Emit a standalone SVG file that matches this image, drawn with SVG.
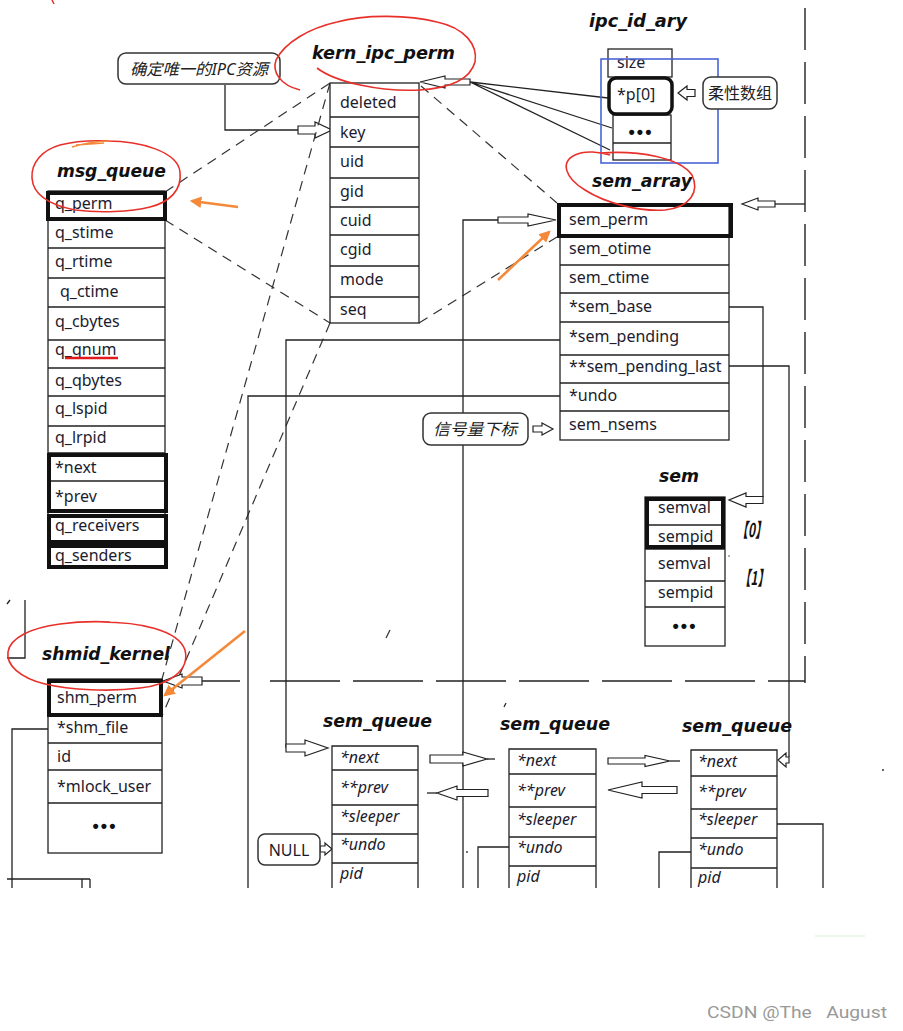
<svg xmlns="http://www.w3.org/2000/svg" width="903" height="1031" viewBox="0 0 903 1031">
<style>
.bx{fill:#fff;stroke:#222;stroke-width:1.3}
.rl{fill:none;stroke:#222;stroke-width:1.3}
.tk{fill:none;stroke:#111;stroke-width:4}
.t{font-family:"Noto Sans","Liberation Sans",sans-serif;font-size:16px;fill:#1c1c2e}
.it{font-style:italic}
.h{font-family:"DejaVu Sans","Liberation Sans",sans-serif;font-weight:bold;font-style:oblique;font-size:17.5px;fill:#111}
.br{font-family:"Noto Sans CJK SC","DejaVu Sans",sans-serif;font-weight:bold;font-style:italic;font-size:19px;fill:#111}
.cj{font-family:"Noto Sans","Noto Sans CJK SC",sans-serif;font-size:16px;fill:#222}
.ln{fill:none;stroke:#222;stroke-width:1.3}
.ds{fill:none;stroke:#333;stroke-width:1.2;stroke-dasharray:10 7}
.ld{fill:none;stroke:#222;stroke-width:1.4}
.ha{fill:#fff;stroke:#222;stroke-width:1.2}
.red{fill:none;stroke:#e8302a;stroke-width:1.6}
.or{fill:none;stroke:#f4893a;stroke-width:2.6;marker-end:url(#oh)}
.co{fill:#fff;stroke:#333;stroke-width:1.5}
.dot{font-family:"Liberation Sans",sans-serif;font-weight:bold;font-size:18px;fill:#111;letter-spacing:2px}
</style>
<defs>
<marker id="oh" viewBox="0 0 10 10" refX="8" refY="5" markerWidth="4.5" markerHeight="4.5" orient="auto"><path d="M0,0 L10,5 L0,10 z" fill="#f4893a"/></marker>
</defs>
<rect width="903" height="1031" fill="#fff"/>

<g id="connectors">
  <path class="ln" d="M225,85 V130 H298"/>
  <polygon class="ha" points="298,126 315,126 315,122 332,130 315,138 315,134 298,134"/>
  <path class="ln" d="M470,82 L608,98 M470,82 L612,128 M470,82 L610,150"/>
  <polygon class="ha" points="470,79 445,79 445,76 420,82 445,88 445,85 470,85"/>
  <polygon class="ha" points="695,89.5 687,89.5 687,86 678,93 687,100 687,96.5 695,96.5"/>
  <path class="ds" d="M165,192 L330,83"/>
  <path class="ds" d="M165,220 L330,323"/>
  <path class="ds" d="M421,86 L557,203"/>
  <path class="ds" d="M419,323 L557,237"/>
  <path class="ds" d="M330,83 L162,679"/>
  <path class="ds" d="M330,323 L162,716"/>
  <path class="ds" d="M386,638 L390,630"/>
  <path class="ln" d="M463,888 V220 H498"/>
  <polygon class="ha" points="498,217 528,217 528,214 556,220 528,226 528,223 498,223"/>
  <path class="ld" d="M805,8 V683" stroke-dasharray="42 12"/>
  <path class="ln" d="M775,204 H805"/>
  <polygon class="ha" points="775,201 758,201 758,198 742,204 758,210 758,207 775,207"/>
  <path class="ln" d="M202,681 H240"/>
  <path class="ld" d="M270,681 H805" stroke-dasharray="70 13"/>
  <polygon class="ha" points="202,677 182,677 182,674 163,681 182,688 182,685 202,685"/>
  <path class="ln" d="M729,307 H763 V497"/>
  <polygon class="ha" points="763,496.5 746,496.5 746,493 729,500 746,507 746,503.5 763,503.5"/>
  <path class="ln" d="M729,366 H789 V757"/>
  <polygon class="ha" points="789,757 786,757 786,753 778,760 786,767 786,763 789,763"/>
  <polygon class="ha" points="533,426 542,426 542,423 553,429 542,435 542,432 533,432"/>
  <path class="ln" d="M560,340 H286 V748"/>
  <polygon class="ha" points="286,744 305,744 305,740 328,748 305,756 305,752 286,752"/>
  <path class="ln" d="M560,396 H248 V888"/>
  <path class="ln" d="M48,729 H12 V888"/>
  <path class="ln" d="M7,879 H90 M82,879 V888 M90,879 V888"/>
  <path class="ln" d="M7,604 L10,600 M25,600 V658 H7"/>
  <polygon class="ha" points="430,755 463,755 463,752 487,759 463,766 463,763 430,763"/>
  <path class="ln" d="M487,759 H495"/>
  <polygon class="ha" points="488,789.5 457,789.5 457,786 437,793 457,800 457,796.5 488,796.5"/>
  <path class="ln" d="M427,793 H437"/>
  <polygon class="ha" points="608,758 645,758 645,755.5 670,761 645,766.5 645,764 608,764"/>
  <path class="ln" d="M670,761 H680"/>
  <polygon class="ha" points="677,786.5 642,786.5 642,782 608,790 642,798 642,793.5 677,793.5"/>
  <polygon class="ha" points="320,846 325,846 325,843 332,849 325,855 325,852 320,852"/>
  <path class="ln" d="M509,847 H478 V888"/>
  <path class="ln" d="M691,852 H659 V888"/>
  <path class="ln" d="M777,824 H823 V888"/>
  <circle cx="467" cy="852" r="0.9" fill="#333"/>
  <circle cx="883" cy="770" r="1" fill="#333"/>
  <circle cx="729" cy="556" r="0.8" fill="#555"/>
  <path class="ln" d="M506,703 L504,707" stroke-width="1"/>
</g>

<g id="callout-ipc">
  <rect class="co" x="118" y="53" width="162" height="31" rx="8"/>
  <text class="cj it" x="199" y="75" text-anchor="middle" textLength="138" lengthAdjust="spacingAndGlyphs">确定唯一的IPC资源</text>
</g>

<g id="kern_ipc_perm">
  <text class="h" x="312" y="59" textLength="143" lengthAdjust="spacingAndGlyphs">kern_ipc_perm</text>
  <rect class="bx" x="330" y="83" width="89" height="240"/>
  <path class="rl" d="M330,117 H419 M330,147 H419 M330,178 H419 M330,207 H419 M330,235 H419 M330,266 H419 M330,297 H419"/>
  <text class="t" x="340" y="108">deleted</text>
  <text class="t" x="340" y="138">key</text>
  <text class="t" x="340" y="167">uid</text>
  <text class="t" x="340" y="197">gid</text>
  <text class="t" x="340" y="226">cuid</text>
  <text class="t" x="340" y="255">cgid</text>
  <text class="t" x="340" y="285">mode</text>
  <text class="t" x="340" y="315">seq</text>
</g>

<g id="ipc_id_ary">
  <text class="h" x="589" y="27" textLength="98" lengthAdjust="spacingAndGlyphs">ipc_id_ary</text>
  <rect class="bx" x="608" y="49" width="64" height="28"/>
  <rect class="bx" x="613" y="115" width="58" height="45"/>
  <path class="rl" d="M613,143 H671"/>
  <rect x="609" y="78" width="63" height="36" rx="7" fill="#fff" stroke="#111" stroke-width="3.5"/>
  <text class="t" x="617" y="68">size</text>
  <text class="t" x="617" y="100">*p[0]</text>
  <text class="dot" x="641" y="138" text-anchor="middle">•••</text>
  <rect x="601" y="59" width="117" height="104" fill="none" stroke="#4a63d8" stroke-width="1.6"/>
</g>

<g id="callout-flex">
  <rect class="co" x="703" y="77" width="74" height="32" rx="8"/>
  <text class="cj" x="740" y="99" text-anchor="middle" textLength="64" lengthAdjust="spacingAndGlyphs">柔性数组</text>
</g>

<g id="msg_queue">
  <text class="h" x="57" y="177" textLength="109" lengthAdjust="spacingAndGlyphs">msg_queue</text>
  <rect class="bx" x="48" y="191" width="117" height="377"/>
  <path class="rl" d="M48,248 H165 M48,278 H165 M48,307 H165 M48,340 H165 M48,368 H165 M48,396 H165 M48,426 H165 M48,453 H165 M48,481 H165"/>
  <rect class="tk" x="48" y="193" width="117" height="26"/>
  <rect class="tk" x="49" y="455" width="117" height="56"/>
  <rect class="tk" x="49" y="516" width="117" height="26"/>
  <rect class="tk" x="49" y="546" width="117" height="21"/>
  <text class="t" x="55" y="209">q_perm</text>
  <text class="t" x="55" y="238">q_stime</text>
  <text class="t" x="55" y="267">q_rtime</text>
  <text class="t" x="60" y="297">q_ctime</text>
  <text class="t" x="55" y="327">q_cbytes</text>
  <text class="t" x="55" y="355">q_qnum</text>
  <text class="t" x="55" y="386">q_qbytes</text>
  <text class="t" x="55" y="414">q_lspid</text>
  <text class="t" x="55" y="443">q_lrpid</text>
  <text class="t" x="55" y="473">*next</text>
  <text class="t" x="55" y="502">*prev</text>
  <text class="t" x="55" y="531">q_receivers</text>
  <text class="t" x="55" y="561">q_senders</text>
  <path d="M65,358 H118" stroke="#e01b1b" stroke-width="2.6"/>
</g>

<g id="sem_array">
  <text class="h" x="592" y="187" textLength="100" lengthAdjust="spacingAndGlyphs">sem_array</text>
  <rect class="bx" x="560" y="205" width="169" height="235"/>
  <path class="rl" d="M560,265 H729 M560,293 H729 M560,322 H729 M560,355 H729 M560,383 H729 M560,411 H729"/>
  <rect class="tk" x="559" y="205" width="172" height="31"/>
  <text class="t" x="569" y="225">sem_perm</text>
  <text class="t" x="569" y="254">sem_otime</text>
  <text class="t" x="569" y="283">sem_ctime</text>
  <text class="t" x="569" y="312">*sem_base</text>
  <text class="t" x="569" y="342">*sem_pending</text>
  <text class="t" x="569" y="372">**sem_pending_last</text>
  <text class="t" x="569" y="401">*undo</text>
  <text class="t" x="569" y="430">sem_nsems</text>
</g>

<g id="callout-index">
  <rect class="co" x="423" y="413" width="105" height="32" rx="8"/>
  <text class="cj it" x="475" y="435" text-anchor="middle" textLength="84" lengthAdjust="spacingAndGlyphs">信号量下标</text>
</g>

<g id="sem">
  <text class="h" x="659" y="482" textLength="40" lengthAdjust="spacingAndGlyphs">sem</text>
  <rect class="bx" x="645" y="497" width="80" height="149"/>
  <path class="rl" d="M645,525 H725 M645,549 H725 M645,581 H725 M645,607 H725"/>
  <rect class="tk" x="647" y="499" width="76" height="48"/>
  <text class="t" x="658" y="513">semval</text>
  <text class="t" x="658" y="542">sempid</text>
  <text class="t" x="658" y="569">semval</text>
  <text class="t" x="658" y="598">sempid</text>
  <text class="dot" x="685" y="632" text-anchor="middle">•••</text>
  <text class="br" x="736" y="537" textLength="31" lengthAdjust="spacingAndGlyphs">【0】</text>
  <text class="br" x="739" y="585" textLength="30" lengthAdjust="spacingAndGlyphs">【1】</text>
</g>

<g id="shmid_kernel">
  <text class="h" x="42" y="660" textLength="128" lengthAdjust="spacingAndGlyphs">shmid_kernel</text>
  <rect class="bx" x="48" y="679" width="114" height="174"/>
  <path class="rl" d="M48,743 H162 M48,770 H162 M48,803 H162"/>
  <rect class="tk" x="49" y="681" width="112" height="34"/>
  <text class="t" x="57" y="703">shm_perm</text>
  <text class="t" x="57" y="733">*shm_file</text>
  <text class="t" x="57" y="762">id</text>
  <text class="t" x="57" y="792">*mlock_user</text>
  <text class="dot" x="105" y="832" text-anchor="middle">•••</text>
</g>

<g id="sem_queue1">
  <text class="h" x="323" y="727" textLength="109" lengthAdjust="spacingAndGlyphs">sem_queue</text>
  <path class="bx" d="M332,888 V746 H418 V888"/>
  <path class="rl" d="M332,770 H418 M332,805 H418 M332,834 H418 M332,863 H418"/>
  <text class="t it" x="340" y="763">*next</text>
  <text class="t it" x="340" y="793">**prev</text>
  <text class="t it" x="340" y="822">*sleeper</text>
  <text class="t it" x="340" y="850">*undo</text>
  <text class="t it" x="340" y="879">pid</text>
</g>

<g id="sem_queue2">
  <text class="h" x="500" y="730" textLength="110" lengthAdjust="spacingAndGlyphs">sem_queue</text>
  <path class="bx" d="M509,888 V749 H596 V888"/>
  <path class="rl" d="M509,774 H596 M509,807 H596 M509,837 H596 M509,866 H596"/>
  <text class="t it" x="517" y="766">*next</text>
  <text class="t it" x="517" y="796">**prev</text>
  <text class="t it" x="517" y="825">*sleeper</text>
  <text class="t it" x="517" y="853">*undo</text>
  <text class="t it" x="517" y="882">pid</text>
</g>

<g id="sem_queue3">
  <text class="h" x="682" y="732" textLength="110" lengthAdjust="spacingAndGlyphs">sem_queue</text>
  <path class="bx" d="M691,888 V750 H777 V888"/>
  <path class="rl" d="M691,776 H777 M691,809 H777 M691,838 H777 M691,868 H777"/>
  <text class="t it" x="698" y="767">*next</text>
  <text class="t it" x="698" y="797">**prev</text>
  <text class="t it" x="698" y="825">*sleeper</text>
  <text class="t it" x="698" y="855">*undo</text>
  <text class="t it" x="698" y="883">pid</text>
</g>

<g id="callout-null">
  <rect class="co" x="258" y="834" width="62" height="31" rx="7"/>
  <text class="t" x="289" y="856" text-anchor="middle">NULL</text>
</g>

<g id="annotations">
  <path class="red" d="M317,68 C335,82 380,92 420,90 C450,88 470,80 475,62 C478,45 465,28 437,22 C410,15 365,14 337,22 C310,28 285,42 276,60 C272,72 280,85 300,90"/>
  <path class="red" d="M103,141 C140,140 178,152 180,172 C182,190 170,202 150,207 C130,212 100,213 75,210 C50,205 33,195 32,178 C31,163 42,150 60,145 C75,141 90,140 110,141"/>
  <path class="red" d="M600,153 C640,150 680,158 692,175 C700,192 690,207 665,210 C640,212 605,203 585,190 C565,178 560,162 575,155 C585,150 600,152 610,155"/>
  <path class="red" d="M100,622 C140,622 178,630 185,650 C190,670 170,685 140,688 C110,692 70,690 45,684 C20,678 6,665 8,652 C10,638 30,628 60,624 C75,622 90,621 110,622"/>
  <path class="red" d="M52,0 L54,4" stroke-width="1"/>
  <path d="M72,147 C85,143 97,141 110,141 M76,145 L104,143" fill="none" stroke="#f4893a" stroke-width="1.6"/>
  <path class="or" d="M238,207 L192,201"/>
  <path class="or" d="M498,280 L549,232"/>
  <path class="or" d="M245,631 L165,695"/>
</g>

<path d="M815,936 H865" stroke="#d6f0d6" stroke-width="1"/>
<text x="707" y="1018" font-family="Roboto,'Liberation Sans',sans-serif" font-size="17" fill="#999" textLength="180" lengthAdjust="spacingAndGlyphs" style="white-space:pre">CSDN @The   August</text>
</svg>
